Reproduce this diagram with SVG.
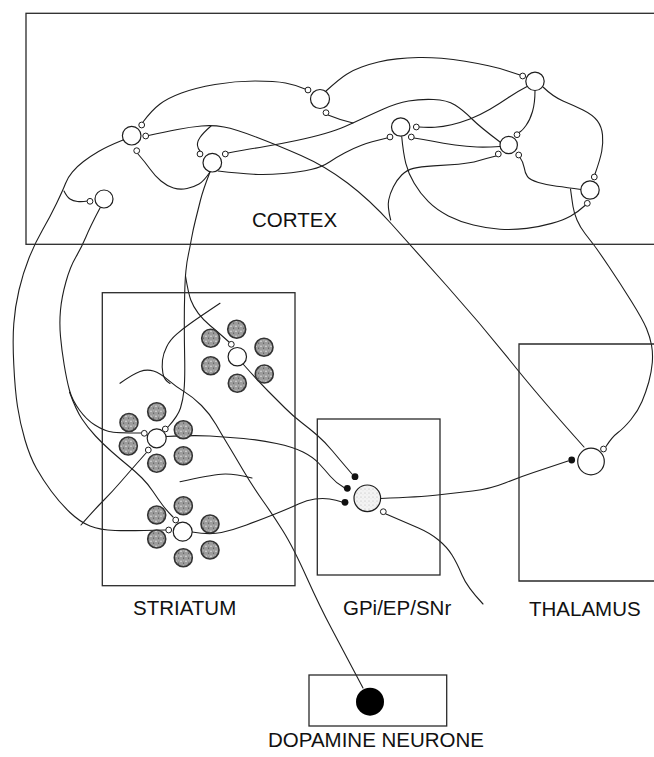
<svg xmlns="http://www.w3.org/2000/svg" width="654" height="757" viewBox="0 0 654 757">
  <style>
    .box { fill: none; stroke: #2a2a2a; stroke-width: 1.3; }
    .lbl { font-family: "Liberation Sans", Arial, sans-serif; font-size: 20.5px; fill: #111; }
    .ax { fill: none; stroke: #1e1e1e; stroke-width: 1.1; stroke-linecap: round; stroke-linejoin: round; }
    .cell { fill: #fff; stroke: #1e1e1e; stroke-width: 1.2; }
    .syn { fill: #fff; stroke: #1e1e1e; stroke-width: 1; }
    .inh { fill: #111; stroke: none; }
    .msn { fill: url(#grain); stroke: #333; stroke-width: 1.6; }
    .gpi { fill: url(#grainLight); stroke: #1e1e1e; stroke-width: 1.2; }
    .da { fill: #000; }
  </style>
  <defs>
    <pattern id="grain" width="5" height="5" patternUnits="userSpaceOnUse">
      <rect width="5" height="5" fill="#9c9c9c"/>
      <circle cx="1" cy="1.2" r="0.8" fill="#e2e2e2"/>
      <circle cx="3.6" cy="3.2" r="0.6" fill="#555"/>
      <circle cx="3.8" cy="0.6" r="0.4" fill="#d0d0d0"/>
    </pattern>
    <pattern id="grainLight" width="4" height="4" patternUnits="userSpaceOnUse">
      <rect width="4" height="4" fill="#f3f3f3"/>
      <circle cx="1" cy="1" r="0.5" fill="#aaa"/>
      <circle cx="3" cy="2.8" r="0.4" fill="#c4c4c4"/>
    </pattern>
  </defs>

  <rect width="654" height="757" fill="#fff"/>

  <!-- axons and dendrites -->
  <g id="connectors" class="ax">
    <!-- cortical loops -->
    <path d="M143,122 Q152,110 160,104 Q168,98 181.5,93 Q195,88 215,84.5 Q235,81 255,81 Q275,81 285.5,83 Q296,85 305,89"/>
    <path d="M148.5,135.5 Q165,132 177.5,129.5 Q190,127 201.5,126 Q213,125 224,127 Q235,129 256,137 Q277,145 301,155.5 Q325,166 347.5,183 Q370,200 391.5,224 Q413,248 446.5,285.5 Q480,323 510,360.5 Q540,398 584,447"/>
    <path d="M211,126 Q203,133 200,137.5 Q197,142 197.5,145.5 Q198,149 200,151"/>
    <path d="M228,153 Q250,149 265,146.5 Q280,144 296.5,140.5 Q313,137 325,133.5 Q337,130 345,126.5 Q353,123 361.5,119 Q370,115 383.5,109 Q397,103 408.5,101 Q420,99 433.5,99.5 Q447,100 455,105 Q463,110 471.5,118.5 Q480,127 500,142"/>
    <path d="M328,115 Q340,120 353,123"/>
    <path d="M138,154 Q145,162 150,169 Q155,176 161,181 Q167,186 173.5,188 Q180,190 187,188.5 Q194,187 199,184 Q204,181 210,172"/>
    <path d="M218,171 Q240,173.5 253.5,174.3 Q267,175 283.5,173.5 Q300,172 311,169.5 Q322,167 329.5,162 Q337,157 345,152.8 Q353,148.5 361.5,145.3 Q370,142 387,138"/>
    <path d="M326,91 Q340,78.3 346.7,74.2 Q353.3,70 361.7,67 Q370,64 378.5,62 Q387,60 397,58.9 Q407,57.7 418.5,57.5 Q430,57.3 441.5,58.3 Q453,59.3 465,61.3 Q477,63.3 488.5,65.8 Q500,68.3 508.5,71.2 Q517,74 520,75"/>
    <path d="M419,127 Q427,127.7 435,127.2 Q443,126.7 451.5,124.7 Q460,122.7 470,118.9 Q480,115 490,109.2 Q500,103.3 508.5,97.5 Q517,91.7 528,86"/>
    <path d="M414,138 Q423,139.3 433,141.3 Q443,143.3 455,145 Q467,146.7 477,147 Q487,147.3 500,146.5"/>
    <path d="M535,90.5 Q535,103 532.5,111.5 Q530,120 526,125.5 Q522,131 519,132.5"/>
    <path d="M543,87 Q553,96.7 563,100.9 Q573,105 583,110 Q593,115 597.4,120.9 Q601.7,126.7 602.5,134.9 Q603.3,143 601.7,151.5 Q600,160 595,174"/>
    <path d="M520,157.5 Q523.3,162 524.2,167.7 Q525,173.3 527.5,176.7 Q530,180 538.4,182.5 Q546.7,185 556.7,186.2 Q566.7,187.3 581,189.5"/>
    <path d="M496,156 Q486.7,158.3 478.4,160.8 Q470,163.3 458.4,164.2 Q446.7,165 433.4,165.9 Q420,166.7 413.4,168.4 Q406.7,170 401.7,175 Q396.7,180 393.4,186.7 Q390,193.3 388.7,200 Q387.3,206.7 390.7,220"/>
    <path d="M401.7,136.5 Q403.3,153.3 405.8,163.3 Q408.3,173.3 414.2,183.3 Q420,193.3 428.4,201.7 Q436.7,210 448.4,215.9 Q460,221.7 473.4,225 Q486.7,228.3 500,229.2 Q513.3,230 526.7,228.4 Q540,226.7 551.7,223.4 Q563.3,220 570.8,215.9 Q578.3,211.7 585,205.5"/>
    <!-- thalamocortical loop -->
    <path d="M570.5,189 Q572,200 573,206.5 Q574,213 577,220 Q580,227 585,233.5 Q590,240 593.5,244.5 Q597,249 608.5,266 Q620,283 631.5,301.5 Q643,320 646.5,328.5 Q650,337 651.5,345 Q653,353 652.3,362.5 Q651.5,372 648.8,382 Q646,392 642,401.5 Q638,411 631,419.5 Q624,428 618,432.5 Q612,437 606,446.5"/>
    <!-- corticostriatal fibres -->
    <path d="M123,140 Q107,146.5 98.5,151.5 Q90,156.5 83.5,161.5 Q77,166.5 72.5,171.8 Q68,177 65.5,183.5 Q63,190 56.5,203.5 Q50,217 42.5,230 Q35,243 29,258 Q23,273 19,290 Q15,307 13.8,323.5 Q12.5,340 13.8,365 Q15,390 17.5,406.5 Q20,423 25,440 Q30,457 36.5,468.5 Q43,480 51.5,491.5 Q60,503 70,512.5 Q80,522 90,526 Q100,530 115,530.5 Q130,531 166,530"/>
    <path d="M64,191 Q67,197 70,199 Q73,201 77.5,201.5 Q82,202 87.5,201"/>
    <path d="M100,208 Q90,227 85.9,237 Q81.7,247 75.9,257 Q70,267 65.9,282 Q61.7,297 60.5,310 Q59.3,323 60.5,336.5 Q61.7,350 64.2,365 Q66.7,380 69.4,390 Q72,400 79.4,410 Q86.7,420 94.9,425 Q103,430 109,431.5 Q115,433 141,433"/>
    <path d="M69.5,392 Q76,410 82,419 Q88,428 95.5,436 Q103,444 111.5,451.5 Q120,459 128,465.5 Q136,472 142,478 Q148,484 153,491.5 Q158,499 162.5,505 Q167,511 173,517"/>
    <path d="M210,172 Q203,190 200.5,200 Q198,210 195.5,220 Q193,230 191.5,238.5 Q190,247 188.4,254.5 Q186.7,262 185.9,271 Q185,280 184.7,293.5 Q184.3,307 184.3,323.5 Q184.3,340 184.7,360 Q185,380 184,390 Q183,400 180.5,408 Q178,416 168,427"/>
    <path d="M185.5,276 Q188.3,293 190.8,300 Q193.3,306.7 198.3,313.4 Q203.3,320 210,325.5 Q216.7,331 229,342"/>
    <!-- striatal fibres -->
    <path d="M220,303.3 Q200,316.7 191.7,322.5 Q183.3,328.3 176.7,334.2 Q170,340 166.7,346.7 Q163.3,353.3 162.5,360 Q161.7,366.7 162.9,373.4 Q164,380 170,383.5"/>
    <path d="M120,383.3 Q133,374 140,371.5 Q147,369 153.5,371 Q160,373 168,379.9 Q176,386.7 184.5,391.9 Q193,397 201.5,405.5 Q210,414 216,424.5 Q222,435 227.5,444 Q233,453 243,470 Q253,487 263,501 Q273,515 283,531 Q293,547 306.5,577 Q320,607 331.5,628.5 Q343,650 363,688"/>
    <path d="M180,481.7 Q210,475 221.5,474.2 Q233,473.3 252,478"/>
    <path d="M146.5,452.5 Q131,470 121.5,481 Q112,492 103.5,500.5 Q95,509 81,525"/>
    <!-- striatal output -->
    <path d="M166.5,436.5 Q193,435 210,436 Q227,437 243.5,438.5 Q260,440 276.5,443.5 Q293,447 303,452 Q313,457 319,463.5 Q325,470 330.5,476.5 Q336,483 344,487.5"/>
    <path d="M243,364 Q260,383 268.5,391.5 Q277,400 285,408 Q293,416 301.5,422.5 Q310,429 317.5,435.5 Q325,442 332.5,451 Q340,460 352,474"/>
    <path d="M192,532 Q210,535 221.5,532.5 Q233,530 246.5,525 Q260,520 275,514 Q290,508 298.5,504 Q307,500 315,499 Q323,498 329.5,499 Q336,500 342,502"/>
    <!-- pallidal output -->
    <path d="M380.5,498.5 Q420,497 437.5,495 Q455,493 472.5,491 Q490,489 505,483 Q520,477 533.5,472.5 Q547,468 568,461"/>
    <path d="M386,514 Q407,523 418.5,528 Q430,533 438.5,540 Q447,547 452,555 Q457,563 462,575 Q467,587 483,604"/>
  </g>

  <g id="cortex">
    <rect class="box" x="26" y="13.3" width="640" height="231"/>
    <text class="lbl" x="252" y="226.7">CORTEX</text>
    <g id="cortex-cells">
      <circle class="cell" cx="131.7" cy="135.7" r="9.3"/>
      <circle class="syn" cx="141.7" cy="125" r="2.9"/>
      <circle class="syn" cx="145.7" cy="136" r="2.9"/>
      <circle class="syn" cx="136.7" cy="150.7" r="2.9"/>
      <circle class="cell" cx="212.3" cy="162.7" r="9.3"/>
      <circle class="syn" cx="200" cy="154" r="2.9"/>
      <circle class="syn" cx="225.3" cy="154" r="2.9"/>
      <circle class="cell" cx="104" cy="199" r="9"/>
      <circle class="syn" cx="90" cy="201.3" r="2.9"/>
      <circle class="cell" cx="320" cy="99" r="9.5"/>
      <circle class="syn" cx="308" cy="90" r="2.9"/>
      <circle class="syn" cx="326" cy="112.7" r="2.9"/>
      <circle class="cell" cx="400.7" cy="127" r="9.2"/>
      <circle class="syn" cx="416.3" cy="127" r="2.9"/>
      <circle class="syn" cx="411.3" cy="137" r="2.9"/>
      <circle class="syn" cx="390" cy="137" r="2.9"/>
      <circle class="cell" cx="535" cy="81.3" r="9.2"/>
      <circle class="syn" cx="522.7" cy="76" r="2.9"/>
      <circle class="cell" cx="508.7" cy="145" r="8.7"/>
      <circle class="syn" cx="517" cy="134.7" r="2.9"/>
      <circle class="syn" cx="498.3" cy="154" r="2.9"/>
      <circle class="syn" cx="518.7" cy="155" r="2.9"/>
      <circle class="cell" cx="590" cy="190" r="9.2"/>
      <circle class="syn" cx="594.3" cy="177" r="2.9"/>
      <circle class="syn" cx="587.3" cy="203.3" r="2.9"/>
    </g>
  </g>

  <g id="striatum">
    <rect class="box" x="102.3" y="292.7" width="192.7" height="293"/>
    <text class="lbl" x="133" y="615">STRIATUM</text>
    <g id="striatum-upper-right">
      <circle class="msn" cx="236.7" cy="329.3" r="9"/>
      <circle class="msn" cx="210.7" cy="338.3" r="9"/>
      <circle class="msn" cx="264" cy="347.3" r="9"/>
      <circle class="msn" cx="210.7" cy="365.7" r="9"/>
      <circle class="msn" cx="264.3" cy="374" r="9"/>
      <circle class="msn" cx="237.3" cy="383.3" r="9"/>
      <circle class="cell" cx="237.3" cy="356.7" r="9.2"/>
      <circle class="syn" cx="231.3" cy="344.3" r="2.9"/>
    </g>
    <g id="striatum-upper-left">
      <circle class="msn" cx="129" cy="422.5" r="9"/>
      <circle class="msn" cx="156.7" cy="411.7" r="9"/>
      <circle class="msn" cx="183.3" cy="429.7" r="9"/>
      <circle class="msn" cx="128.3" cy="446" r="9"/>
      <circle class="msn" cx="183.3" cy="455.7" r="9"/>
      <circle class="msn" cx="156.7" cy="463.3" r="9"/>
      <circle class="cell" cx="156.7" cy="438.3" r="9.5"/>
      <circle class="syn" cx="144.3" cy="433.3" r="2.9"/>
      <circle class="syn" cx="165.3" cy="429" r="2.9"/>
      <circle class="syn" cx="148.3" cy="450" r="2.9"/>
    </g>
    <g id="striatum-lower">
      <circle class="msn" cx="183.3" cy="505.7" r="9"/>
      <circle class="msn" cx="156.7" cy="515" r="9"/>
      <circle class="msn" cx="210" cy="524" r="9"/>
      <circle class="msn" cx="156.7" cy="539" r="9"/>
      <circle class="msn" cx="210" cy="550" r="9"/>
      <circle class="msn" cx="183.3" cy="557.7" r="9"/>
      <circle class="cell" cx="182.7" cy="531.7" r="9.5"/>
      <circle class="syn" cx="175.7" cy="520" r="2.9"/>
      <circle class="syn" cx="168.7" cy="530" r="2.9"/>
    </g>
  </g>

  <g id="gpi">
    <rect class="box" x="317.3" y="419" width="122.7" height="156"/>
    <text class="lbl" x="343" y="615">GPi/EP/SNr</text>
    <circle class="gpi" cx="367.3" cy="498.3" r="13.3"/>
    <circle class="inh" cx="355" cy="476.7" r="3.4"/>
    <circle class="inh" cx="347.3" cy="488.3" r="3.4"/>
    <circle class="inh" cx="345" cy="502.3" r="3.4"/>
    <circle class="syn" cx="383.3" cy="511.7" r="2.9"/>
  </g>

  <g id="thalamus">
    <path class="box" d="M660,344 H519 V581 H660"/>
    <text class="lbl" x="529" y="616">THALAMUS</text>
    <circle class="cell" cx="591" cy="461.5" r="13.3"/>
    <circle class="inh" cx="571.7" cy="460" r="3.4"/>
    <circle class="syn" cx="603.5" cy="449" r="2.9"/>
  </g>

  <g id="dopamine">
    <rect class="box" x="309" y="675" width="137.7" height="51"/>
    <circle class="da" cx="370" cy="701.7" r="14"/>
    <text class="lbl" x="268" y="746.7">DOPAMINE NEURONE</text>
  </g>
</svg>
